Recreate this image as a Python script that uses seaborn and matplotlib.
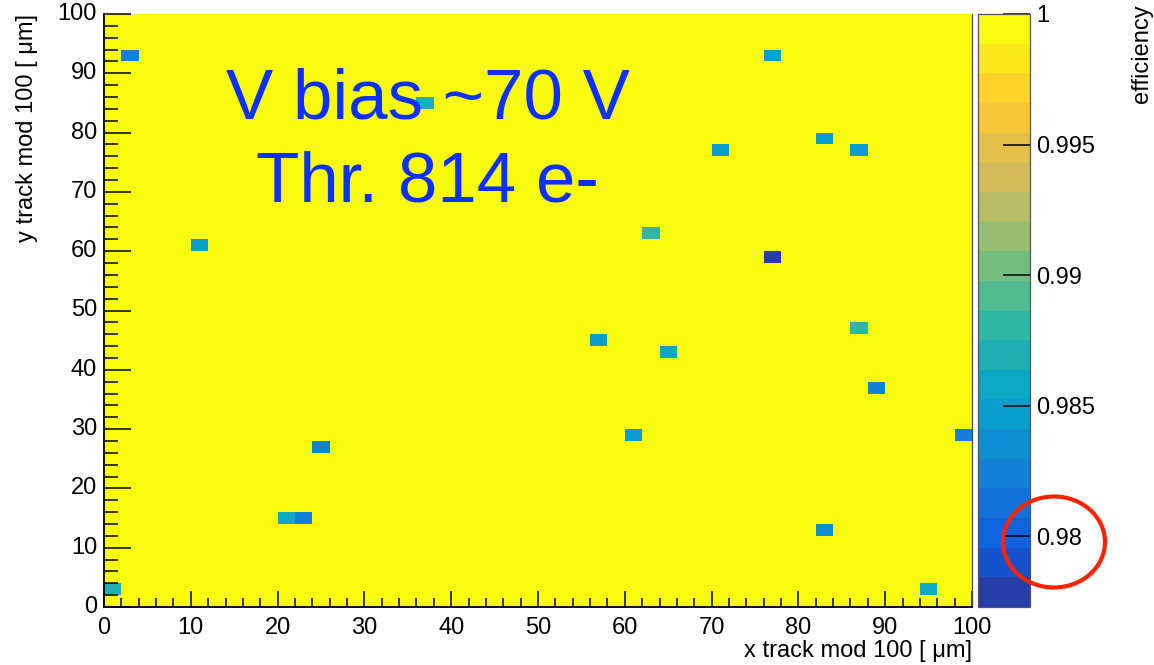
import numpy as np
import pandas as pd
import matplotlib
matplotlib.use("Agg")
import matplotlib.pyplot as plt
from matplotlib.colors import LinearSegmentedColormap, ListedColormap
from matplotlib.patches import Ellipse
from matplotlib.ticker import MultipleLocator, FuncFormatter
import seaborn as sns

# ---- data: in-pixel efficiency map (2 um x 2 um bins over a 100 um cell) ----
bin_width = 2
n_bins = 50
# bins below full efficiency: lower-left corner in um and efficiency
cell_x = [2, 76, 36, 82, 70, 86, 62, 10, 76, 86, 56, 64, 88, 60, 98, 24, 20, 22, 82, 0, 94]
cell_y = [92, 92, 84, 78, 76, 76, 62, 60, 58, 46, 44, 42, 36, 28, 28, 26, 14, 14, 12, 2, 2]
cell_eff = [0.9824, 0.9847, 0.9869, 0.9847, 0.9847, 0.9847, 0.9881, 0.9847, 0.9779,
            0.9881, 0.9845, 0.9858, 0.9824, 0.9847, 0.9824, 0.9824, 0.9858, 0.9824,
            0.9835, 0.9869, 0.9858]
eff_min, eff_max = 0.9773, 1.0
n_levels = 20
cbar_ticks = [0.98, 0.985, 0.99, 0.995, 1.0]
cbar_labels = ["0.98", "0.985", "0.99", "0.995", "1"]

# ---- ROOT "bird" palette, sampled per contour level ----
stops = [0.0, 0.125, 0.25, 0.375, 0.5, 0.625, 0.75, 0.875, 1.0]
red = [0.2082, 0.0592, 0.0780, 0.0232, 0.1802, 0.5301, 0.8186, 0.9956, 0.9764]
green = [0.1664, 0.3599, 0.5041, 0.6419, 0.7178, 0.7492, 0.7328, 0.7862, 0.9832]
blue = [0.5293, 0.8684, 0.8385, 0.7914, 0.6425, 0.4662, 0.3499, 0.1968, 0.0539]
bird = LinearSegmentedColormap.from_list(
    "bird", [(s, (r, g, b)) for s, r, g, b in zip(stops, red, green, blue)], N=255)
level_pos = [int((i + 0.99) * 255 / n_levels) / 254 for i in range(n_levels)]
cmap = ListedColormap([bird(p) for p in level_pos])

# ---- grid ----
eff = np.ones((n_bins, n_bins))
for x, y, e in zip(cell_x, cell_y, cell_eff):
    eff[y // bin_width, x // bin_width] = e
centers = np.arange(n_bins) * bin_width + bin_width / 2
df = pd.DataFrame(eff, index=centers, columns=centers)

plt.rcParams["font.family"] = ["Liberation Sans", "DejaVu Sans"]

W, H = 1154, 665
fig = plt.figure(figsize=(W / 100, H / 100), dpi=100)
ax = fig.add_axes([104 / W, 1 - 607 / H, 868 / W, 593 / H])
cax = fig.add_axes([978 / W, 1 - 607 / H, 52 / W, 593 / H])

sns.heatmap(df, ax=ax, cbar_ax=cax, cmap=cmap, vmin=eff_min, vmax=eff_max,
            cbar_kws={"ticks": cbar_ticks})
ax.set_xlim(0, n_bins)
ax.set_ylim(0, n_bins)

# axis ticks in um (data coordinates are bin indices)
fmt = FuncFormatter(lambda v, p: f"{v * bin_width:g}")
for axis in (ax.xaxis, ax.yaxis):
    axis.set_major_locator(MultipleLocator(10 / bin_width))
    axis.set_minor_locator(MultipleLocator(1))
    axis.set_major_formatter(fmt)
ax.set_xlabel("")
ax.set_ylabel("")
ax.tick_params(axis="both", labelsize=17, labelrotation=0, colors="black")
ax.tick_params(axis="y", which="major", direction="in", length=19.5, width=1.1, pad=5,
               left=True, right=False)
ax.tick_params(axis="y", which="minor", direction="in", length=10, width=1.1,
               left=True, right=False)
ax.tick_params(axis="x", which="major", direction="in", length=11.5, width=1.1, pad=7,
               bottom=True, top=False)
ax.tick_params(axis="x", which="minor", direction="in", length=6.5, width=1.1,
               bottom=True, top=False)
for side in ("left", "bottom", "right"):
    ax.spines[side].set_visible(True)
    ax.spines[side].set_color("black")
    ax.spines[side].set_linewidth(1.3)
ax.spines["right"].set_linewidth(0.9)
ax.spines["right"].set_color("#444444")
ax.spines["top"].set_visible(False)

# colour scale
cb = ax.collections[0].colorbar
cb.set_ticks(cbar_ticks)
cb.set_ticklabels(cbar_labels)
cax.tick_params(axis="y", which="major", direction="in", length=19.5, width=1.1,
                labelsize=17, pad=4.5, right=True, left=False)
cax.tick_params(axis="y", which="minor", length=0)
cb.outline.set_linewidth(0.9)
cb.outline.set_edgecolor("#555555")

# axis titles
fig.text(972 / W, 1 - 657 / H, "x track mod 100 [ \u03bcm]", ha="right", va="baseline",
         fontsize=17)
fig.text(27 / W, 1 - 14 / H, "y track mod 100 [ \u03bcm]", ha="center", va="top",
         rotation=90, fontsize=17)
fig.text(1153 / W, 1 - 4 / H, "efficiency", ha="right", va="top", rotation=90,
         fontsize=17)

# run conditions
blue_txt = "#0b30ff"
ax.text(0.373, 0.8246, "V bias ~70 V", transform=ax.transAxes, ha="center",
        va="baseline", fontsize=51, color=blue_txt)
ax.text(0.373, 0.683, "Thr. 814 e-", transform=ax.transAxes, ha="center",
        va="baseline", fontsize=51, color=blue_txt)

# highlight around the 0.98 level
fig.add_artist(Ellipse((1054 / W, 1 - 542 / H), 102 / W, 91 / H,
                       transform=fig.transFigure, fill=False, edgecolor="#ff2200",
                       linewidth=3))

fig.savefig("out.png", dpi=100)
